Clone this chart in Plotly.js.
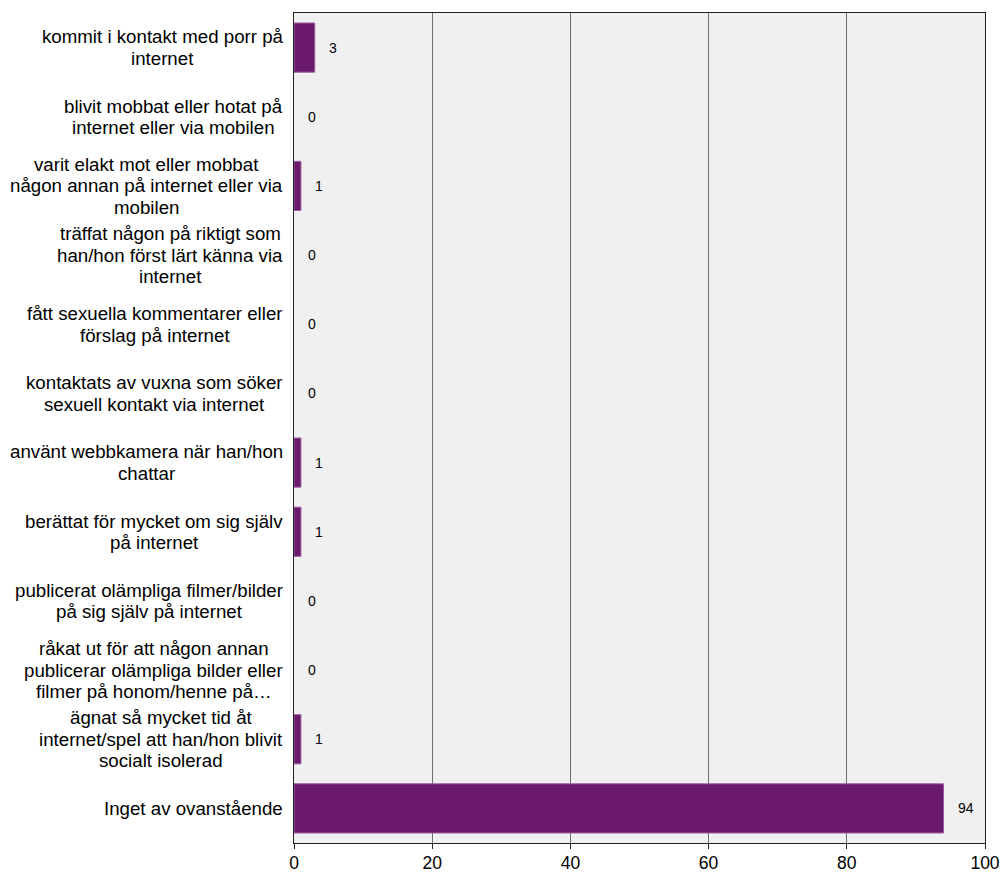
<!DOCTYPE html>
<html><head><meta charset="utf-8">
<script src="https://cdn.plot.ly/plotly-3.0.1.min.js"></script>
<style>body{margin:0;background:#fff}#c{width:1003px;height:873px}</style>
</head><body><div id="c"></div>
<script>
var categories = [
  "kommit i kontakt med porr på<br>internet",
  "blivit mobbat eller hotat på<br>internet eller via mobilen",
  "varit elakt mot eller mobbat<br>någon annan på internet eller via<br>mobilen",
  "träffat någon på riktigt som<br>han/hon först lärt känna via<br>internet",
  "fått sexuella kommentarer eller<br>förslag på internet",
  "kontaktats av vuxna som söker<br>sexuell kontakt via internet",
  "använt webbkamera när han/hon<br>chattar",
  "berättat för mycket om sig själv<br>på internet",
  "publicerat olämpliga filmer/bilder<br>på sig själv på internet",
  "råkat ut för att någon annan<br>publicerar olämpliga bilder eller<br>filmer på honom/henne på…",
  "ägnat så mycket tid åt<br>internet/spel att han/hon blivit<br>socialt isolerad",
  "Inget av ovanstående"
];
var values = [3, 0, 1, 0, 0, 0, 1, 1, 0, 0, 1, 94];
var xTicks = [0, 20, 40, 60, 80, 100];

var ids = categories.map(function(_, i){ return "c" + i; });
var font = "Liberation Sans, Arial, Helvetica, sans-serif";
var labelSize = 18.7;
var linePitch = 21.5;

var ctx = document.createElement("canvas").getContext("2d");
ctx.font = labelSize + "px 'Liberation Sans', Arial, sans-serif";

var annotations = [];
categories.forEach(function(c, i){
  var lines = c.split("<br>");
  var n = lines.length;
  var maxW = 0;
  lines.forEach(function(l){ maxW = Math.max(maxW, ctx.measureText(l).width); });
  lines.forEach(function(line, k){
    annotations.push({
      x: 0, xref: "paper", xshift: -11 - maxW / 2, xanchor: "center",
      y: ids[i], yref: "y", yanchor: "middle",
      yshift: ((n - 1) / 2 - k) * linePitch,
      text: line, showarrow: false, align: "center",
      font: {family: font, size: labelSize, color: "#000"}
    });
  });
  annotations.push({
    x: values[i], xref: "x", xanchor: "left", xshift: 12,
    y: ids[i], yref: "y", yanchor: "middle",
    text: String(values[i]), showarrow: false,
    font: {family: font, size: 14, color: "#000"}
  });
});

var trace = {
  type: "bar", orientation: "h",
  x: values, y: ids,
  width: 0.71,
  marker: {color: "#6b1a6e", line: {color: "#9a5a9c", width: values.map(function(v){ return v > 0 ? 1 : 0; })}},
  hoverinfo: "none"
};

var layout = {
  width: 1003, height: 873,
  margin: {l: 294, r: 18, t: 13, b: 30, autoexpand: false},
  paper_bgcolor: "#fff", plot_bgcolor: "#f0f0f0",
  showlegend: false,
  font: {family: font, size: 17.5, color: "#000"},
  xaxis: {
    range: [0, 100], tickvals: xTicks, ticktext: xTicks.map(String),
    showgrid: true, gridcolor: "#6e6e6e", gridwidth: 1,
    zeroline: false, showline: true, linecolor: "#222", linewidth: 1,
    mirror: true, ticks: "outside", ticklen: 5, tickcolor: "#222",
    ticklabelstandoff: -1,
    tickfont: {family: font, size: 17.5, color: "#000"}, automargin: false, fixedrange: true
  },
  yaxis: {
    categoryorder: "array", categoryarray: ids,
    autorange: "reversed", showticklabels: false,
    showgrid: false, zeroline: false, showline: true, linecolor: "#222", linewidth: 1,
    mirror: true, ticks: "", automargin: false, fixedrange: true
  },
  annotations: annotations
};

Plotly.newPlot("c", [trace], layout, {displayModeBar: false, staticPlot: true});
</script>
</body></html>
